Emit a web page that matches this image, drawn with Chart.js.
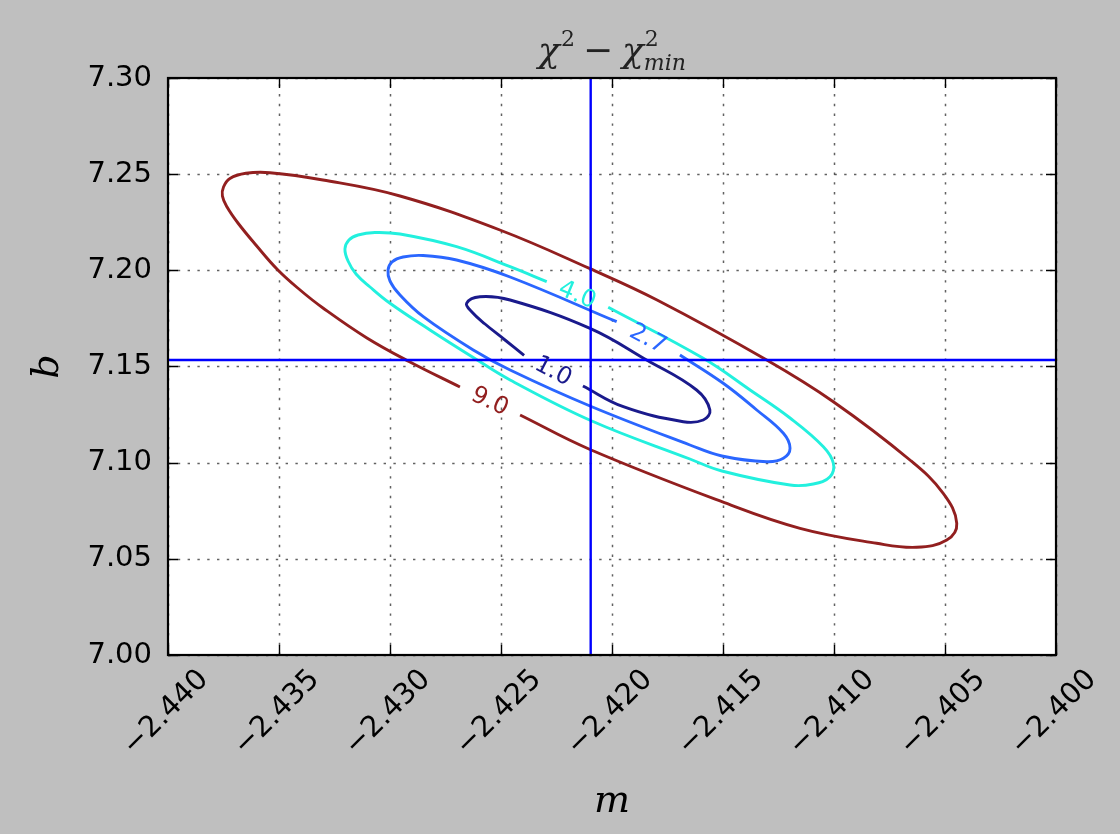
<!DOCTYPE html>
<html>
<head>
<meta charset="utf-8">
<script src="https://cdn.jsdelivr.net/npm/chart.js@4.4.1/dist/chart.umd.min.js"></script>
<style>
  html, body { margin: 0; padding: 0; background: #bfbfbf; }
  #wrap { width: 1120px; height: 834px; position: relative; }
</style>
</head>
<body>
<div id="wrap"><canvas id="c" width="1120" height="834"></canvas></div>
<script>
// Axis ticks
const xTicks = [-2.440, -2.435, -2.430, -2.425, -2.420, -2.415, -2.410, -2.405, -2.400];
const yTicks = [7.00, 7.05, 7.10, 7.15, 7.20, 7.25, 7.30];

// Best-fit parameters (crosshair)
const bestM = -2.42096;
const bestB = 7.1534;

// Contour levels of chi^2 - chi^2_min
const levels = [1.0, 2.7, 4.0, 9.0];

// Contour paths as [m, b] pairs; each path starts and ends at its label gap
const contour1 = [
  [-2.42131, 7.13986], [-2.41949, 7.12910], [-2.41679, 7.12130], [-2.41589, 7.12218],
  [-2.41559, 7.12738], [-2.41619, 7.13778], [-2.41844, 7.15338], [-2.42099, 7.16986],
  [-2.42459, 7.18458], [-2.42595, 7.18629], [-2.42655, 7.18286], [-2.42631, 7.17834],
  [-2.42572, 7.17210], [-2.42482, 7.16378], [-2.42396, 7.15572]
];
const contour27 = [
  [-2.41694, 7.15598], [-2.41499, 7.14127], [-2.41348, 7.12738], [-2.41228, 7.11527],
  [-2.41198, 7.10747], [-2.41228, 7.10227], [-2.41303, 7.10050], [-2.41505, 7.10347],
  [-2.41649, 7.10919], [-2.42099, 7.12946], [-2.42459, 7.14818], [-2.42625, 7.15858],
  [-2.42850, 7.17589], [-2.42955, 7.18718], [-2.43000, 7.19445], [-2.43009, 7.20017],
  [-2.42991, 7.20433], [-2.42941, 7.20693], [-2.42851, 7.20771], [-2.42700, 7.20537],
  [-2.42459, 7.19653], [-2.41979, 7.17329]
];
const contour4 = [
  [-2.42017, 7.18078], [-2.41589, 7.15426], [-2.41378, 7.13778], [-2.41198, 7.12322],
  [-2.41048, 7.10830], [-2.41003, 7.09967], [-2.41018, 7.09270], [-2.41093, 7.08891],
  [-2.41198, 7.08839], [-2.41505, 7.09567], [-2.41649, 7.10191], [-2.42091, 7.12166],
  [-2.42459, 7.14298], [-2.42625, 7.15468], [-2.42820, 7.16898], [-2.43000, 7.18286],
  [-2.43090, 7.19133], [-2.43153, 7.19809], [-2.43189, 7.20485], [-2.43203, 7.21109],
  [-2.43185, 7.21577], [-2.43144, 7.21837], [-2.43068, 7.21967], [-2.42955, 7.21889],
  [-2.42700, 7.21229], [-2.42459, 7.20189], [-2.42294, 7.19409]
];
const contour9 = [
  [-2.42414, 7.12478], [-2.42099, 7.10685], [-2.41505, 7.07971],
  [-2.41153, 7.06587], [-2.40808, 7.05808], [-2.40628, 7.05600], [-2.40492, 7.05979],
  [-2.40447, 7.06847], [-2.40508, 7.08407], [-2.40658, 7.10139], [-2.41003, 7.13170],
  [-2.41303, 7.15338], [-2.41797, 7.18458], [-2.42099, 7.20085], [-2.42505, 7.22097],
  [-2.42955, 7.23865], [-2.43302, 7.24697], [-2.43541, 7.25076], [-2.43649, 7.25045],
  [-2.43721, 7.24775], [-2.43750, 7.24333], [-2.43755, 7.23865], [-2.43734, 7.23293],
  [-2.43685, 7.22461], [-2.43604, 7.21317], [-2.43505, 7.20017], [-2.43405, 7.18977],
  [-2.43302, 7.18042], [-2.43104, 7.16482], [-2.42910, 7.15234], [-2.42685, 7.13934]
];

// jet colormap samples for the four levels
const levelColors = ['#1a1a8c', '#2a66ff', '#22f0de', '#921f1f'];
const contours = [contour1, contour27, contour4, contour9];

const MINUS = '\u2212';
const fmt = (v, d) => v.toFixed(d).replace('-', MINUS);

const toXY = arr => arr.map(p => ({ x: p[0], y: p[1] }));

const datasets = [
  {
    label: 'm best',
    data: [{ x: bestM, y: yTicks[0] }, { x: bestM, y: yTicks[yTicks.length - 1] }],
    showLine: true, borderColor: '#0000ff', borderWidth: 2.4, pointRadius: 0, tension: 0
  },
  {
    label: 'b best',
    data: [{ x: xTicks[0], y: bestB }, { x: xTicks[xTicks.length - 1], y: bestB }],
    showLine: true, borderColor: '#0000ff', borderWidth: 2.4, pointRadius: 0, tension: 0
  }
];
contours.forEach((c, i) => {
  datasets.push({
    label: fmt(levels[i], 1),
    levelLabel: fmt(levels[i], 1),
    data: toXY(c),
    showLine: true,
    borderColor: levelColors[i],
    borderWidth: 2.9,
    pointRadius: 0,
    tension: 0.4,
    fill: false
  });
});

const frame = {
  id: 'frame',
  beforeDraw(chart) {
    const { ctx, chartArea: a } = chart;
    ctx.save();
    ctx.fillStyle = '#bfbfbf';
    ctx.fillRect(0, 0, chart.width, chart.height);
    ctx.fillStyle = '#ffffff';
    ctx.fillRect(a.left, a.top, a.right - a.left, a.bottom - a.top);
    ctx.restore();
  },
  beforeDatasetsDraw(chart) {
    // dotted grid
    const { ctx, chartArea: a, scales: { x, y } } = chart;
    ctx.save();
    ctx.strokeStyle = 'rgba(0,0,0,0.62)';
    ctx.lineWidth = 1.5;
    ctx.setLineDash([2.4, 7.4]);
    xTicks.forEach(v => {
      const px = Math.round(x.getPixelForValue(v)) + 0.5;
      ctx.beginPath(); ctx.moveTo(px, a.bottom); ctx.lineTo(px, a.top); ctx.stroke();
    });
    yTicks.forEach(v => {
      const py = Math.round(y.getPixelForValue(v)) + 0.5;
      ctx.beginPath(); ctx.moveTo(a.left, py); ctx.lineTo(a.right, py); ctx.stroke();
    });
    ctx.restore();
  },
  afterDatasetsDraw(chart) {
    const { ctx, chartArea: a, scales: { x, y } } = chart;
    ctx.save();
    // contour labels placed in each path's gap
    chart.data.datasets.forEach((ds, i) => {
      if (!ds.levelLabel) return;
      const pts = chart.getDatasetMeta(i).data;
      const p0 = pts[pts.length - 1], p1 = pts[0];
      const cx = (p0.x + p1.x) / 2, cy = (p0.y + p1.y) / 2;
      const ang = Math.atan2(p1.y - p0.y, p1.x - p0.x);
      ctx.save();
      ctx.translate(cx, cy);
      ctx.rotate(ang);
      ctx.fillStyle = ds.borderColor;
      ctx.font = '24px "DejaVu Sans"';
      ctx.textAlign = 'center';
      ctx.textBaseline = 'middle';
      ctx.fillText(ds.levelLabel, 0, 1);
      ctx.restore();
    });

    // spines
    ctx.strokeStyle = '#000';
    ctx.lineWidth = 2.2;
    ctx.setLineDash([]);
    ctx.strokeRect(a.left, a.top, a.right - a.left, a.bottom - a.top);

    // inward ticks on all sides
    ctx.lineWidth = 1.4;
    const tl = 10;
    xTicks.forEach(v => {
      const px = Math.round(x.getPixelForValue(v)) + 0.5;
      ctx.beginPath();
      ctx.moveTo(px, a.bottom); ctx.lineTo(px, a.bottom - tl);
      ctx.moveTo(px, a.top); ctx.lineTo(px, a.top + tl);
      ctx.stroke();
    });
    yTicks.forEach(v => {
      const py = Math.round(y.getPixelForValue(v)) + 0.5;
      ctx.beginPath();
      ctx.moveTo(a.left, py); ctx.lineTo(a.left + tl, py);
      ctx.moveTo(a.right, py); ctx.lineTo(a.right - tl, py);
      ctx.stroke();
    });

    // rotated x tick labels
    ctx.fillStyle = '#000';
    ctx.font = '29px "DejaVu Sans"';
    ctx.textAlign = 'center';
    ctx.textBaseline = 'middle';
    xTicks.forEach(v => {
      const px = x.getPixelForValue(v);
      ctx.save();
      ctx.translate(px - 2, a.bottom + 58);
      ctx.rotate(-Math.PI / 4);
      ctx.fillText(fmt(v, 3), 0, 0);
      ctx.restore();
    });

    // axis labels
    ctx.font = 'italic 38px "DejaVu Serif"';
    ctx.textAlign = 'center';
    ctx.textBaseline = 'alphabetic';
    ctx.fillText('m', (a.left + a.right) / 2, 812);
    ctx.save();
    ctx.translate(58, (a.top + a.bottom) / 2);
    ctx.rotate(-Math.PI / 2);
    ctx.fillText('b', 0, 0);
    ctx.restore();

    // title: chi^2 - chi^2_min
    const big = 'italic 36px "DejaVu Serif"';
    const bigUp = '36px "DejaVu Serif"';
    const sup = '22px "DejaVu Serif"';
    const subIt = 'italic 22px "DejaVu Serif"';
    const base = 62;
    const w = (t, f) => { ctx.font = f; return ctx.measureText(t).width; };
    const wChi = w('\u03c7', big), wSup = w('2', sup), wMin = w('min', subIt), wMinus = w(MINUS, bigUp);
    const gap = 9;
    const total = wChi + wSup + gap + wMinus + gap + wChi + Math.max(wSup, wMin);
    let tx = (a.left + a.right) / 2 - total / 2;
    ctx.textAlign = 'left';
    ctx.fillStyle = '#222';
    ctx.font = big; ctx.fillText('\u03c7', tx, base); tx += wChi;
    ctx.font = sup; ctx.fillText('2', tx + 1, base - 16); tx += wSup + gap;
    ctx.font = bigUp; ctx.fillText(MINUS, tx, base); tx += wMinus + gap;
    ctx.font = big; ctx.fillText('\u03c7', tx, base); tx += wChi;
    ctx.font = sup; ctx.fillText('2', tx + 1, base - 16);
    ctx.font = subIt; ctx.fillText('min', tx, base + 8);
    ctx.restore();
  }
};

new Chart(document.getElementById('c'), {
  type: 'scatter',
  data: { datasets },
  options: {
    responsive: false,
    animation: false,
    devicePixelRatio: 1,
    layout: { padding: { top: 78, right: 64, left: 0, bottom: 0 } },
    plugins: { legend: { display: false }, title: { display: false }, tooltip: { enabled: false } },
    scales: {
      x: {
        type: 'linear',
        min: xTicks[0],
        max: xTicks[xTicks.length - 1],
        afterBuildTicks: s => { s.ticks = xTicks.map(v => ({ value: v })); },
        afterFit: s => { s.height = 179; },
        ticks: { display: false },
        grid: { display: false },
        border: { display: false }
      },
      y: {
        type: 'linear',
        min: yTicks[0],
        max: yTicks[yTicks.length - 1],
        afterBuildTicks: s => { s.ticks = yTicks.map(v => ({ value: v })); },
        afterFit: s => { s.width = 168; },
        ticks: {
          padding: 16,
          color: '#000',
          font: { family: 'DejaVu Sans', size: 29 },
          callback: v => fmt(v, 2)
        },
        grid: { display: false, drawTicks: false },
        border: { display: false }
      }
    }
  },
  plugins: [frame]
});
</script>
</body>
</html>
